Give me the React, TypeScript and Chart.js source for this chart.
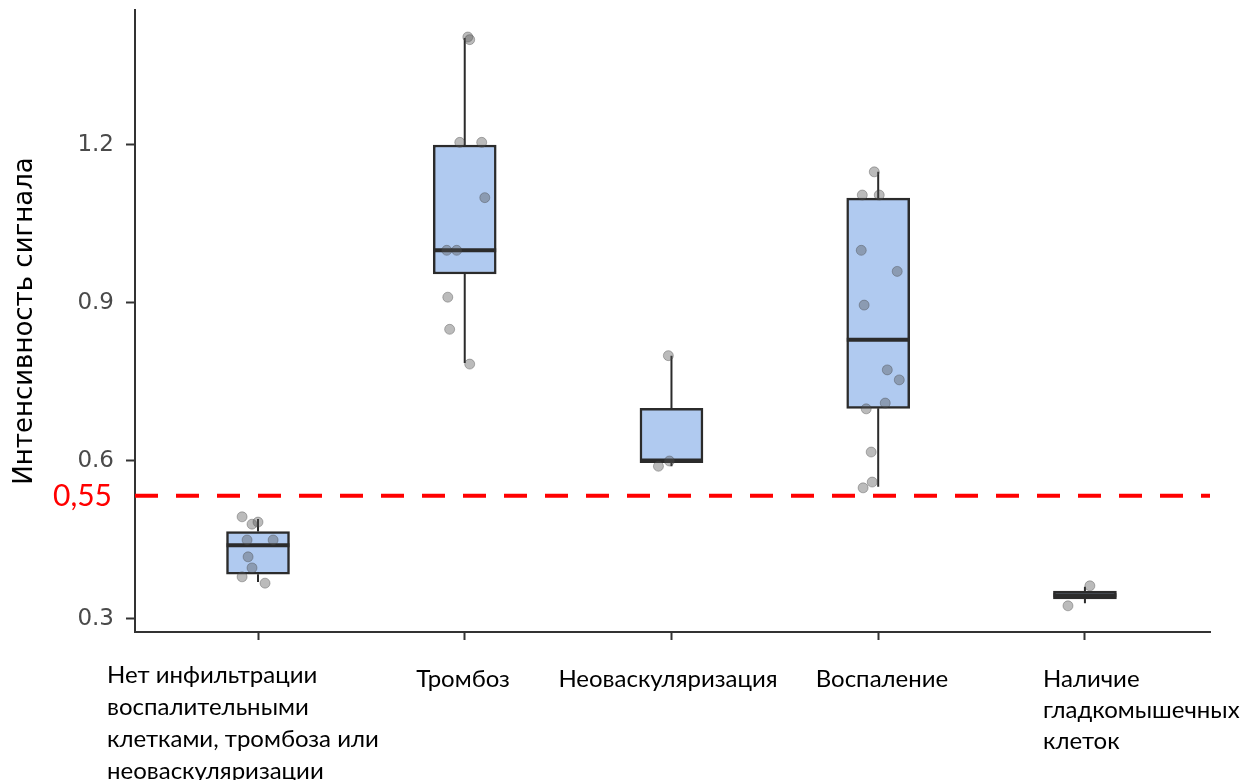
import React, { useEffect, useRef } from "react";
import { Chart, registerables } from "chart.js";

Chart.register(...registerables);

const CATEGORY_LABELS = [
  ["Нет инфильтрации", "воспалительными", "клетками, тромбоза или", "неоваскуляризации"],
  ["Тромбоз"],
  ["Неоваскуляризация"],
  ["Воспаление"],
  ["Наличие", "гладкомышечных", "клеток"],
];
const CATEGORY_POS = [1, 2, 3, 4, 5];

const Q1 = [0.385, 0.955, 0.597, 0.7, 0.338];
const MEDIAN = [0.44, 1.0, 0.601, 0.83, 0.345];
const Q3 = [0.466, 1.2, 0.7, 1.099, 0.353];
const WHISKER_LOW = [0.37, 0.786, 0.59, 0.551, 0.33];
const WHISKER_HIGH = [0.49, 1.403, 0.8, 1.149, 0.361];

const PTS_1 = [0.494, 0.48, 0.484, 0.45, 0.45, 0.418, 0.397, 0.38, 0.368];
const JIT_1 = [-0.077, -0.029, 0, -0.053, 0.073, -0.048, -0.029, -0.077, 0.034];
const PTS_2 = [1.405, 1.4, 1.205, 1.205, 1.1, 1.0, 1.0, 0.911, 0.85, 0.784];
const JIT_2 = [0.015, 0.024, -0.024, 0.082, 0.097, -0.087, -0.039, -0.082, -0.073, 0.024];
const PTS_3 = [0.8, 0.59, 0.6];
const JIT_3 = [-0.015, -0.063, -0.01];
const PTS_4 = [1.149, 1.105, 1.105, 1.0, 0.96, 0.896, 0.773, 0.754, 0.71, 0.699, 0.617, 0.56, 0.549];
const JIT_4 = [-0.019, -0.077, 0.005, -0.082, 0.092, -0.068, 0.044, 0.102, 0.034, -0.058, -0.034, -0.029, -0.073];
const PTS_5 = [0.363, 0.325];
const JIT_5 = [0.024, -0.082];

const POINT_VALUES = [PTS_1, PTS_2, PTS_3, PTS_4, PTS_5];
const POINT_JITTER = [JIT_1, JIT_2, JIT_3, JIT_4, JIT_5];

const THRESHOLD = 0.534;
const THRESHOLD_LABEL = "0,55";

const Y_TICKS = [0.3, 0.6, 0.9, 1.2];
const Y_MIN = 0.2753;
const Y_MAX = 1.4563;
const X_MIN = 0.405;
const X_MAX = 5.605;
const BOX_HALF = 0.152;

const thresholdLabelPlugin = {
  id: "thresholdLabel",
  afterDraw(chart: any) {
    const y = chart.scales.y.getPixelForValue(THRESHOLD);
    const ctx = chart.ctx;
    ctx.save();
    ctx.fillStyle = "#ff0000";
    ctx.font = "30px Lato";
    ctx.textAlign = "right";
    ctx.textBaseline = "middle";
    ctx.fillText(THRESHOLD_LABEL, 112, y + 1);
    ctx.restore();
  },
};

export default function App() {
  const ref = useRef<HTMLCanvasElement>(null);

  useEffect(() => {
    if (!ref.current) return;
    const boxes = CATEGORY_POS.map((x, i) => ({ x, y: [Q1[i], Q3[i]] }));
    const whiskers: any[] = [];
    const medians: any[] = [];
    CATEGORY_POS.forEach((x, i) => {
      whiskers.push({ x, y: Q3[i] }, { x, y: WHISKER_HIGH[i] }, { x, y: null });
      whiskers.push({ x, y: Q1[i] }, { x, y: WHISKER_LOW[i] }, { x, y: null });
      medians.push({ x: x - BOX_HALF, y: MEDIAN[i] }, { x: x + BOX_HALF, y: MEDIAN[i] }, { x, y: null });
    });
    const points: any[] = [];
    CATEGORY_POS.forEach((x, i) => {
      POINT_VALUES[i].forEach((v, j) => points.push({ x: x + POINT_JITTER[i][j], y: v }));
    });

    const chart = new Chart(ref.current, {
      type: "bar",
      data: {
        datasets: [
          {
            type: "bar",
            data: boxes as any,
            backgroundColor: "#b0caf0",
            borderColor: "#2b2b2b",
            borderWidth: 2.5,
            borderSkipped: false,
            barThickness: 63,
            order: 3,
          } as any,
          {
            type: "line",
            data: whiskers,
            borderColor: "#2b2b2b",
            borderWidth: 2,
            pointRadius: 0,
            spanGaps: false,
            order: 2,
          } as any,
          {
            type: "line",
            data: medians,
            borderColor: "#2b2b2b",
            borderWidth: 4,
            pointRadius: 0,
            spanGaps: false,
            order: 1,
          } as any,
          {
            type: "scatter",
            data: points,
            backgroundColor: "rgba(85,85,85,0.4)",
            borderColor: "rgba(60,60,60,0.35)",
            borderWidth: 1,
            pointRadius: 5,
            order: 0,
          } as any,
          {
            type: "line",
            data: [
              { x: X_MIN, y: THRESHOLD },
              { x: X_MAX, y: THRESHOLD },
            ],
            borderColor: "#ff0000",
            borderWidth: 4,
            borderDash: [23, 18],
            pointRadius: 0,
            order: 0,
          } as any,
        ],
      },
      options: {
        responsive: false,
        animation: false,
        layout: { padding: { top: 10, right: 40, left: 0, bottom: 0 } },
        plugins: { legend: { display: false }, tooltip: { enabled: false } },
        scales: {
          x: {
            type: "linear",
            offset: false,
            min: X_MIN,
            max: X_MAX,
            afterBuildTicks: (s: any) => {
              s.ticks = CATEGORY_POS.map((v) => ({ value: v }));
            },
            afterFit: (s: any) => {
              s.height = 148;
              s.paddingLeft = 0;
              s.paddingRight = 0;
            },
            ticks: { callback: () => "" },
            grid: { offset: false, drawOnChartArea: false, tickLength: 8, tickColor: "#333", tickWidth: 2 },
            border: { color: "#333", width: 2 },
          },
          y: {
            type: "linear",
            min: Y_MIN,
            max: Y_MAX,
            afterBuildTicks: (s: any) => {
              s.ticks = Y_TICKS.map((v) => ({ value: v }));
            },
            afterFit: (s: any) => {
              s.width = 135;
              s.paddingTop = 0;
              s.paddingBottom = 0;
            },
            ticks: {
              callback: (v: any) => Number(v).toFixed(1),
              color: "#4a4a4a",
              font: { family: "DejaVu Sans", size: 23 },
              padding: 12,
            },
            grid: { drawOnChartArea: false, tickLength: 9, tickColor: "#333", tickWidth: 2 },
            border: { color: "#333", width: 2 },
            title: {
              display: true,
              text: "Интенсивность сигнала",
              color: "#000",
              font: { family: "DejaVu Sans", size: 26 },
              padding: { top: 10, bottom: 0 },
            },
          },
        },
      },
      plugins: [thresholdLabelPlugin],
    });
    return () => chart.destroy();
  }, []);

  const labelStyle: React.CSSProperties = {
    position: "absolute",
    fontFamily: "Lato",
    fontSize: 24,
    lineHeight: "32px",
    color: "#000",
    whiteSpace: "nowrap",
  };

  return (
    <div style={{ position: "fixed", left: 0, top: 0, width: 1250, height: 780, background: "#fff", overflow: "hidden" }}>
      <canvas ref={ref} width={1250} height={780} />
      <div style={{ ...labelStyle, left: 107, top: 658 }}>
        {CATEGORY_LABELS[0].map((l, i) => (
          <div key={i}>{l}</div>
        ))}
      </div>
      <div style={{ ...labelStyle, left: 463, top: 662, transform: "translateX(-50%)" }}>
        {CATEGORY_LABELS[1].map((l, i) => (
          <div key={i}>{l}</div>
        ))}
      </div>
      <div style={{ ...labelStyle, left: 668, top: 662, transform: "translateX(-50%)" }}>
        {CATEGORY_LABELS[2].map((l, i) => (
          <div key={i}>{l}</div>
        ))}
      </div>
      <div style={{ ...labelStyle, left: 882, top: 662, transform: "translateX(-50%)" }}>
        {CATEGORY_LABELS[3].map((l, i) => (
          <div key={i}>{l}</div>
        ))}
      </div>
      <div style={{ ...labelStyle, left: 1043, top: 662, lineHeight: "31px" }}>
        {CATEGORY_LABELS[4].map((l, i) => (
          <div key={i}>{l}</div>
        ))}
      </div>
    </div>
  );
}
